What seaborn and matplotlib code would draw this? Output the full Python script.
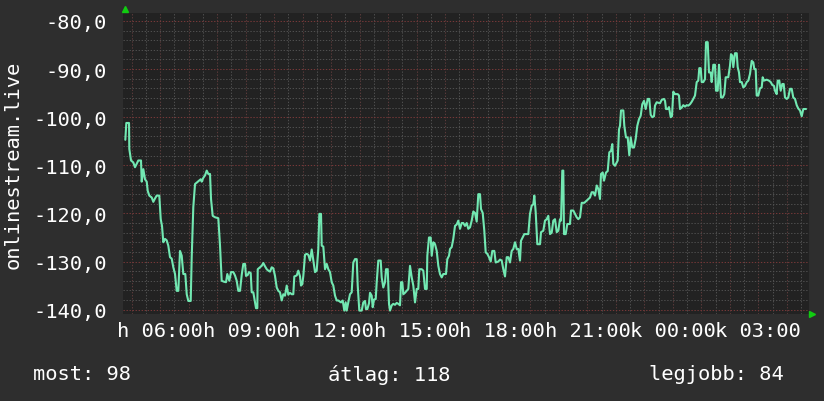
import matplotlib
matplotlib.use("Agg")
import matplotlib.pyplot as plt
import seaborn as sns
import pandas as pd
from matplotlib.ticker import MultipleLocator, FuncFormatter

# ---- data (time in hours since midnight of the first day, value) ----
hours = [
    4.775, 4.810, 4.905, 4.915, 4.975, 5.055, 5.115, 5.175, 5.231, 5.326, 5.350, 5.407, 5.466, 5.526, 5.561,
    5.617, 5.702, 5.758, 5.817, 5.877, 5.968, 6.018, 6.063, 6.109, 6.169, 6.228, 6.284, 6.344, 6.404, 6.460,
    6.520, 6.579, 6.636, 6.695, 6.755, 6.811, 6.881, 6.931, 6.987, 7.071, 7.106, 7.162, 7.222, 7.282, 7.362,
    7.422, 7.457, 7.514, 7.573, 7.633, 7.689, 7.749, 7.784, 7.843, 7.924, 8.040, 8.100, 8.159, 8.240, 8.311,
    8.356, 8.426, 8.486, 8.567, 8.626, 8.686, 8.742, 8.802,
    8.862, 8.918, 8.978, 9.013, 9.072, 9.118, 9.178, 9.213, 9.269, 9.329, 9.364, 9.410, 9.424, 9.504, 9.564,
    9.620, 9.680, 9.740, 9.796, 9.855, 9.915, 9.971, 10.031, 10.091, 10.147, 10.206, 10.266, 10.322, 10.382,
    10.442, 10.498, 10.557, 10.617, 10.673, 10.709, 10.793, 10.849, 10.909, 10.944, 10.990, 11.025, 11.084,
    11.144, 11.200, 11.260, 11.320, 11.376, 11.436, 11.495, 11.551, 11.587, 11.646, 11.671, 11.727, 11.787,
    11.846, 11.902, 11.962, 12.022, 12.078, 12.138, 12.197, 12.253, 12.348, 12.408, 12.464, 12.513, 12.548,
    12.604, 12.664, 12.724, 12.780, 12.840,
    12.900, 12.935, 12.991, 13.075, 13.131, 13.191, 13.226, 13.272, 13.331, 13.367, 13.426, 13.461, 13.507,
    13.567, 13.602, 13.658, 13.742, 13.777, 13.833, 13.893, 13.928, 13.988, 14.034, 14.069, 14.129, 14.185,
    14.245, 14.304, 14.360, 14.420, 14.455, 14.501, 14.536, 14.595, 14.655, 14.711, 14.771, 14.831, 14.887,
    14.947, 15.006, 15.062, 15.098, 15.182, 15.238, 15.298, 15.358, 15.379, 15.438, 15.498, 15.533, 15.590,
    15.649, 15.709, 15.765, 15.824, 15.884, 15.940, 16.035, 16.081, 16.141, 16.176, 16.235, 16.291, 16.351,
    16.411, 16.467, 16.527, 16.586, 16.642, 16.702, 16.762, 16.818, 16.878,
    16.937, 16.994, 17.053, 17.113, 17.169, 17.229, 17.264, 17.324, 17.380, 17.429, 17.485, 17.545, 17.605,
    17.661, 17.731, 17.780, 17.872, 17.931, 17.991, 18.047, 18.107, 18.167, 18.222, 18.282, 18.342, 18.398,
    18.458, 18.518, 18.574, 18.633, 18.668, 18.728, 18.784, 18.925, 18.984, 19.044, 19.100, 19.136, 19.185,
    19.241, 19.336, 19.371, 19.452, 19.511, 19.571, 19.627, 19.687, 19.747, 19.803, 19.862, 19.922, 19.978,
    20.038, 20.073, 20.119, 20.154, 20.178, 20.238, 20.294, 20.389, 20.424, 20.505, 20.565, 20.624, 20.681,
    20.740, 20.800, 20.891,
    21.091, 21.151, 21.207, 21.267, 21.327, 21.383, 21.442, 21.477, 21.537, 21.583, 21.653, 21.713, 21.769,
    21.829, 21.874, 21.909, 21.969, 22.029, 22.064, 22.110, 22.145, 22.180, 22.261, 22.296, 22.355, 22.415,
    22.471, 22.520, 22.577, 22.636, 22.696, 22.752, 22.812, 22.871, 22.927, 22.987, 23.047, 23.117, 23.173,
    23.222, 23.279, 23.338, 23.373, 23.433, 23.550, 23.609, 23.690, 23.725, 23.760, 23.820, 23.865, 23.925,
    23.970, 24.016, 24.076, 24.170, 24.216, 24.251, 24.311, 24.367, 24.427, 24.487, 24.543, 24.603, 24.662,
    24.718, 24.778,
    24.838, 24.894, 24.929, 24.978, 25.013, 25.069, 25.129, 25.164, 25.224, 25.270, 25.329, 25.364, 25.421,
    25.480, 25.515, 25.575, 25.621, 25.656, 25.691, 25.751, 25.807, 25.856, 25.947, 26.007, 26.042, 26.088,
    26.123, 26.183, 26.243, 26.277, 26.323, 26.358, 26.418, 26.474, 26.534, 26.594, 26.650, 26.709, 26.769,
    26.825, 26.860, 26.909, 26.944, 27.000, 27.060, 27.120, 27.155, 27.201, 27.295, 27.376, 27.436, 27.492,
    27.552, 27.587, 27.646, 27.681, 27.738, 27.787, 27.843, 27.892, 27.938, 27.998, 28.054, 28.114, 28.173,
    28.229, 28.289, 28.349, 28.405, 28.465, 28.525, 28.581, 28.676,
]
values = [
    -104.7, -101.2, -101.2, -106.6, -109.0, -109.4, -110.4, -109.7, -109.0, -109.0, -113.4, -110.8, -112.9, -113.4, -115.3,
    -116.3, -116.7, -117.6, -116.9, -116.3, -116.3, -121.2, -122.6, -126.0, -125.3, -125.6, -126.7, -129.1, -129.4, -131.2,
    -132.6, -136.1, -136.1, -127.8, -128.8, -132.6, -132.6, -136.8, -138.2, -138.2, -129.1, -118.7, -113.9, -113.6, -113.2,
    -112.9, -113.4, -112.6, -112.1, -111.1, -111.8, -111.8, -117.0, -120.5, -120.8, -121.0, -126.7, -134.0, -134.2, -134.3,
    -132.6, -134.0, -132.2, -132.2, -132.9, -134.0, -136.1, -136.1,
    -132.8, -130.5, -130.5, -133.0, -132.8, -132.2, -132.4, -136.4, -136.4, -138.5, -139.7, -139.7, -131.6, -131.2, -130.9,
    -130.3, -131.0, -131.6, -131.9, -132.1, -131.2, -131.4, -133.0, -135.4, -136.1, -136.4, -138.1, -136.8, -137.1,
    -135.0, -136.9, -136.5, -136.8, -136.8, -133.1, -132.9, -131.9, -133.1, -135.0, -134.7, -133.0, -128.6,
    -128.4, -128.6, -129.8, -127.5, -129.8, -132.2, -131.9, -127.4, -120.1, -120.1, -126.7, -126.9, -131.6,
    -130.5, -131.6, -132.2, -134.3, -135.0, -137.1, -138.1, -138.1, -138.5, -138.1, -140.2, -138.5, -140.2,
    -138.5, -136.8, -136.4, -130.2, -129.5,
    -129.5, -135.0, -140.2, -140.2, -138.5, -138.2, -139.9, -139.9, -138.7, -136.5, -137.1, -139.5, -137.9,
    -137.8, -134.3, -129.8, -129.8, -133.3, -135.4, -134.3, -131.6, -131.6, -138.8, -140.2, -139.1, -138.8,
    -139.0, -138.6, -138.8, -139.1, -134.3, -134.3, -136.8, -136.5, -136.1, -135.7, -130.9, -133.3, -135.0,
    -138.5, -135.7, -135.7, -131.6, -131.6, -131.9, -135.7, -135.7, -128.8, -125.0, -125.0, -128.8, -126.0,
    -126.4, -127.8, -130.9, -132.6, -133.3, -132.6, -132.6, -129.5, -128.8, -127.4, -127.0, -125.3, -122.6,
    -122.3, -121.5, -123.2, -122.0, -122.0, -122.6, -122.0, -123.2, -122.9,
    -121.5, -119.6, -119.9, -121.7, -116.0, -116.0, -119.1, -119.9, -123.6, -128.1, -128.4, -129.1, -130.0,
    -127.8, -127.8, -130.2, -130.0, -129.6, -129.8, -131.6, -133.1, -129.1, -129.1, -130.2, -127.8, -127.4,
    -126.0, -127.4, -127.4, -129.8, -125.7, -125.0, -124.3, -124.3, -120.1, -118.4, -118.1, -116.3, -119.8,
    -126.4, -126.4, -123.9, -123.6, -121.5, -121.2, -120.5, -124.3, -124.0, -121.5, -121.2, -123.9, -123.6,
    -121.2, -121.5, -111.1, -111.1, -124.3, -124.3, -122.2, -122.2, -119.4, -119.4, -120.1, -120.8, -121.2,
    -120.8, -117.8, -117.8,
    -116.7, -115.6, -115.6, -116.3, -114.2, -114.9, -117.0, -111.8, -111.5, -113.2, -111.5, -111.2, -107.3,
    -107.0, -105.6, -109.7, -110.1, -109.4, -109.0, -102.5, -101.8, -98.6, -98.6, -101.8, -104.2, -104.2,
    -107.9, -104.2, -106.3, -106.3, -104.5, -101.8, -100.4, -99.7, -97.3, -96.6, -98.3, -96.2, -96.2,
    -99.5, -100.0, -99.8, -97.6, -96.9, -97.1, -96.4, -96.2, -96.6, -98.3, -98.3, -97.9, -100.0,
    -99.8, -94.7, -95.2, -95.2, -95.5, -98.3, -98.0, -97.5, -97.8, -97.5, -97.6, -97.3, -96.8,
    -96.2, -95.5,
    -92.7, -92.4, -89.8, -89.8, -92.7, -92.7, -92.1, -84.4, -84.4, -90.7, -90.7, -92.7, -89.1,
    -89.1, -94.5, -94.5, -89.1, -92.1, -95.9, -95.9, -95.2, -91.7, -91.7, -89.3, -86.9, -87.2,
    -89.6, -86.7, -86.7, -89.6, -90.7, -92.7, -92.7, -93.8, -93.5, -92.7, -92.4, -91.0, -88.3,
    -88.6, -90.0, -90.0, -95.5, -95.5, -94.0, -93.8, -91.7, -92.4, -92.2, -92.4, -92.7, -93.3,
    -93.5, -94.5, -95.2, -92.4, -92.4, -94.5, -93.1, -93.1, -95.9, -96.2, -95.9, -94.1, -94.1,
    -95.9, -96.2, -97.5, -98.2, -98.6, -99.8, -98.3, -98.3,
]

tick_hours = [6, 9, 12, 15, 18, 21, 24, 27]
tick_labels = ["h 06:00", "h 09:00", "h 12:00", "h 15:00", "h 18:00", "h 21:00", "k 00:00", "k 03:00"]
y_label = "onlinestream.live"
stat_texts = ["most: 98", "átlag: 118", "legjobb: 84"]

# ---- style ----
BG = "#2e2e2e"
CANVAS = "#222222"
FG = "#ffffff"
LINE = "#72e8b2"
GRID_MINOR = "#4e4e4e"
GRID_MAJOR_H = "#763838"
GRID_MAJOR_V = "#5a3a3a"
ARROW = "#11cc11"

sns.set_style("dark")
plt.rcParams["font.family"] = ["DejaVu Sans Mono", "DejaVu Sans"]
plt.rcParams["axes.unicode_minus"] = False
FS = 14.7

fig = plt.figure(figsize=(8.24, 4.02), dpi=100, facecolor=BG)
ax = fig.add_axes([123.5 / 824, 1 - 315 / 402, (809 - 123.5) / 824, (315 - 14) / 402])
ax.set_facecolor(CANVAS)

df = pd.DataFrame({"hour": hours, "value": values})
sns.lineplot(data=df, x="hour", y="value", ax=ax, color=LINE, linewidth=1.5,
             estimator=None, sort=False, zorder=3)

ax.set_xlim(4.711, 28.781)
ax.set_ylim(-140.91, -78.34)

# grid
ax.xaxis.set_major_locator(MultipleLocator(1))
ax.xaxis.set_minor_locator(MultipleLocator(0.5))
ax.yaxis.set_major_locator(MultipleLocator(10))
ax.yaxis.set_minor_locator(MultipleLocator(2))
lab_map = dict(zip(tick_hours, tick_labels))
ax.xaxis.set_major_formatter(FuncFormatter(lambda v, p: lab_map.get(int(round(v)), "") if abs(v - round(v)) < 1e-6 else ""))
ax.yaxis.set_major_formatter(FuncFormatter(lambda v, p: f"{v:.1f}".replace(".", ",")))
dots = (0, (1.3, 1.6))
ax.grid(which="minor", color=GRID_MINOR, linewidth=0.75, linestyle=dots, zorder=0)
ax.xaxis.grid(which="major", color=GRID_MAJOR_V, linewidth=0.75, linestyle=dots, zorder=1)
ax.yaxis.grid(which="major", color=GRID_MAJOR_H, linewidth=0.75, linestyle=dots, zorder=1)
ax.set_axisbelow(True)

ax.tick_params(axis="both", which="both", length=0, colors=FG, labelsize=FS)
ax.tick_params(axis="y", pad=11.9)
ax.tick_params(axis="x", pad=4.8)
for s in ax.spines.values():
    s.set_visible(False)
ax.set_xlabel("")
ax.set_ylabel("")

# axis arrows
ax.plot([0.0015], [1.012], marker="^", color=ARROW, markersize=4, transform=ax.transAxes, clip_on=False, zorder=5)
ax.plot([1.0045], [0.0], marker=">", color=ARROW, markersize=4, transform=ax.transAxes, clip_on=False, zorder=5)

fig.text(13 / 824, 1 - 165 / 402, y_label, rotation=90, ha="center", va="center", color=FG, fontsize=FS)
fig.text(33 / 824, 1 - 375 / 402, stat_texts[0], ha="left", va="center", color=FG, fontsize=FS)
fig.text(328 / 824, 1 - 375 / 402, stat_texts[1], ha="left", va="center", color=FG, fontsize=FS)
fig.text(649 / 824, 1 - 375 / 402, stat_texts[2], ha="left", va="center", color=FG, fontsize=FS)

fig.savefig("out.png", dpi=100, facecolor=BG)
